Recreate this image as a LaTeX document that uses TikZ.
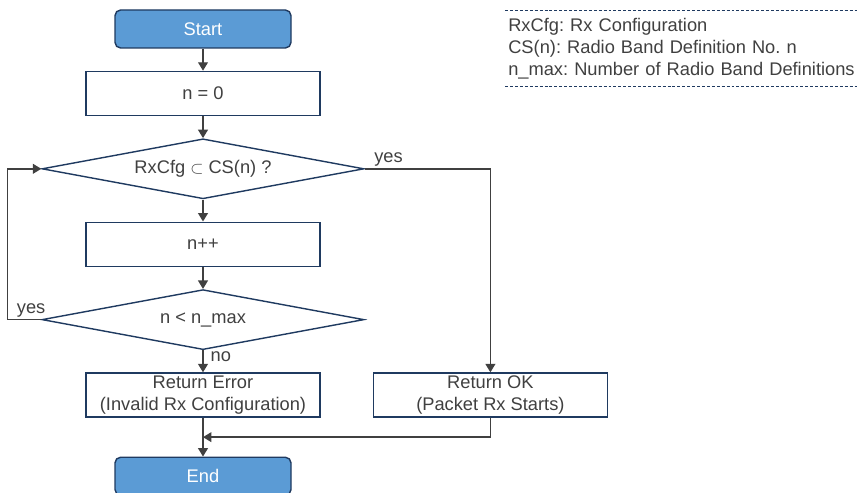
\documentclass[tikz,border=0pt]{standalone}
\usepackage{fontspec}
\setmainfont{Liberation Sans}
\frenchspacing
\usetikzlibrary{shapes.geometric, arrows.meta, positioning, calc}
\definecolor{termblue}{HTML}{5B9BD5}
\definecolor{edgenavy}{HTML}{1F3A60}
\definecolor{textgray}{HTML}{404040}
\newcommand{\fcfont}{\fontsize{13}{15.6}\selectfont}
\tikzset{
  fc terminal/.style={
    rectangle, rounded corners=4pt, draw=edgenavy, fill=termblue,
    line width=1pt, minimum width=4.4cm, minimum height=0.95cm,
    text=white, font=\fcfont, inner sep=0pt
  },
  fc process/.style={
    rectangle, draw=edgenavy, fill=white, line width=1pt,
    minimum width=5.85cm, minimum height=1.1cm,
    text=textgray, font=\fcfont, align=center, inner sep=0pt
  },
  fc decision/.style={
    diamond, draw=edgenavy, fill=white, line width=1pt,
    aspect=5.37, minimum width=8.05cm, minimum height=1.5cm,
    text=textgray, font=\fcfont, inner sep=0pt
  },
  fc arrow/.style={
    -{Triangle[width=7pt,length=6pt]}, line width=1pt, draw=textgray
  },
  fc label/.style={
    font=\fcfont, text=textgray, inner sep=1pt
  },
  fc legend/.style={
    dash pattern=on 2.1pt off 1.4pt, line width=1pt, draw=edgenavy
  }
}

\begin{document}
\begin{tikzpicture}[node distance=0.55cm and 1.3cm]
  \useasboundingbox (0,0) rectangle (21.425,-12.3);

  \node (start) [fc terminal] at (5.075,-0.725) {Start};
  \node (init) [fc process, below=of start] {n = 0};
  \node (check) [fc decision, below=of init] {RxCfg $\subset$ CS(n) ?};
  \node (incr) [fc process, below=of check] {n++};
  \node (limit) [fc decision, below=of incr] {n < n\_max};
  \node (err) [fc process, below=of limit] {Return Error\\(Invalid Rx Configuration)};
  \node (ok) [fc process, right=of err] {Return OK\\(Packet Rx Starts)};
  \node (end) [fc terminal, below=0.97cm of err] {End};
  \coordinate (merge) at ($(err.south)!0.5!(end.north)$);

  \draw [fc arrow] (start) -- (init);
  \draw [fc arrow] (init) -- (check);
  \draw [fc arrow] (check) -- (incr);
  \draw [fc arrow] (incr) -- (limit);
  \draw [fc arrow] (limit) -- node [fc label, right, pos=0.3, xshift=4pt] {no} (err);
  \draw [fc arrow] (err) -- (end);
  \draw [fc arrow] (check.east) -| node [fc label, above right, pos=0.03] {yes} (ok);
  \draw [fc arrow] (limit.west) -- node [fc label, above, pos=0.3] {yes} ++(-0.85,0) |- (check.west);
  \draw [fc arrow] (ok) |- (merge);

  % legend
  \node (legend) [anchor=west, text width=9cm, minimum height=1.875cm,
    align=left, font=\fcfont, text=textgray, inner sep=0pt] at (12.7,-1.2125)
    {RxCfg: Rx Configuration\\CS(n): Radio Band Definition No. n\\n\_max: Number of Radio Band Definitions};
  \draw [fc legend] ([xshift=-2pt]legend.north west) -- (legend.north east);
  \draw [fc legend] ([xshift=-2pt]legend.south west) -- (legend.south east);
\end{tikzpicture}
\end{document}
